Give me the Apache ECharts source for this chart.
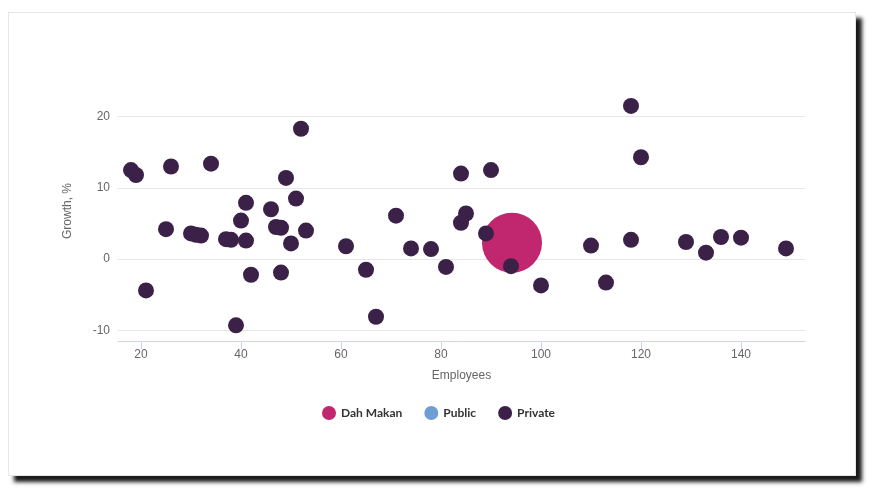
<!DOCTYPE html>
<html>
<head>
<meta charset="utf-8">
<script src="https://cdn.jsdelivr.net/npm/echarts@6/dist/echarts.min.js"></script>
<style>
  html, body { margin: 0; padding: 0; background: #fff; }
  #card { position: absolute; left: 8px; top: 12px; width: 846px; height: 462px;
          border: 1px solid #e6e6e6; background: #fff; box-shadow: 6px 6px 4px #1a1a1a; }
  #chart { position: absolute; left: -9px; top: -13px; width: 877px; height: 497px; }
</style>
</head>
<body>
<div id="card"><div id="chart"></div></div>
<script>
// Employees, growth %
var privateX = [18, 19, 21, 25, 26, 30, 31, 32, 34, 37, 38, 39, 40, 41, 41, 42, 46, 47, 48, 48, 49, 50, 51, 52, 53,
                61, 65, 67, 71, 74, 78, 81, 84, 84, 85, 89, 90, 94, 100, 110, 113, 118, 120, 118, 129, 133, 136, 140, 149];
var privateY = [12.5, 11.8, -4.4, 4.2, 13, 3.6, 3.4, 3.3, 13.4, 2.8, 2.7, -9.3, 5.4, 7.9, 2.6, -2.2, 7, 4.5, 4.4, -1.9, 11.4, 2.2, 8.5, 18.3, 4,
                1.8, -1.5, -8.1, 6.1, 1.5, 1.4, -1.1, 12, 5.1, 6.4, 3.6, 12.5, -1, -3.7, 1.9, -3.3, 21.5, 14.3, 2.7, 2.4, 0.9, 3.1, 3, 1.5];
var dahMakan = [[94.2, 2.3]];
var publicData = [];
var xTicks = [20, 40, 60, 80, 100, 120, 140];
var yTicks = [-10, 0, 10, 20];

var privateData = privateX.map(function (x, i) { return [x, privateY[i]]; });

var chart = echarts.init(document.getElementById('chart'));
chart.setOption({
    animation: false,
    grid: { left: 118, right: 72, top: 81, bottom: 156 },
    legend: {
        bottom: 72, left: 'center', itemGap: 22, icon: 'circle', itemWidth: 14, itemHeight: 14,
        textStyle: { color: '#333', fontWeight: 'bold', fontSize: 12, fontFamily: 'Lato' },
        data: ['Dah Makan', 'Public', 'Private']
    },
    xAxis: {
        type: 'value', min: 15.4, max: 152.8, name: 'Employees', nameLocation: 'middle', nameGap: 29,
        nameTextStyle: { color: '#666', fontSize: 12 },
        axisLine: { onZero: false, lineStyle: { color: '#ccd6eb' } },
        axisTick: { show: true, customValues: xTicks, length: 8, lineStyle: { color: '#ccd6eb' } },
        axisLabel: { customValues: xTicks, color: '#666', fontSize: 12 },
        splitLine: { show: false }
    },
    yAxis: {
        type: 'value', min: -11.5, max: 25, name: 'Growth, %', nameLocation: 'middle', nameGap: 44,
        nameTextStyle: { color: '#666', fontSize: 12 },
        axisLine: { show: false },
        axisTick: { show: false, customValues: yTicks },
        axisLabel: { customValues: yTicks, color: '#666', fontSize: 12 },
        splitLine: { lineStyle: { color: '#e6e6e6' } }
    },
    series: [
        { name: 'Dah Makan', type: 'scatter', data: dahMakan, symbolSize: 60, z: 2,
          itemStyle: { color: '#c0276f', opacity: 1 } },
        { name: 'Public', type: 'scatter', data: publicData, symbolSize: 16,
          itemStyle: { color: '#4a86c8' } },
        { name: 'Private', type: 'scatter', data: privateData, symbolSize: 16, z: 3,
          itemStyle: { color: '#3b2148', opacity: 1 } }
    ]
});
</script>
</body>
</html>
